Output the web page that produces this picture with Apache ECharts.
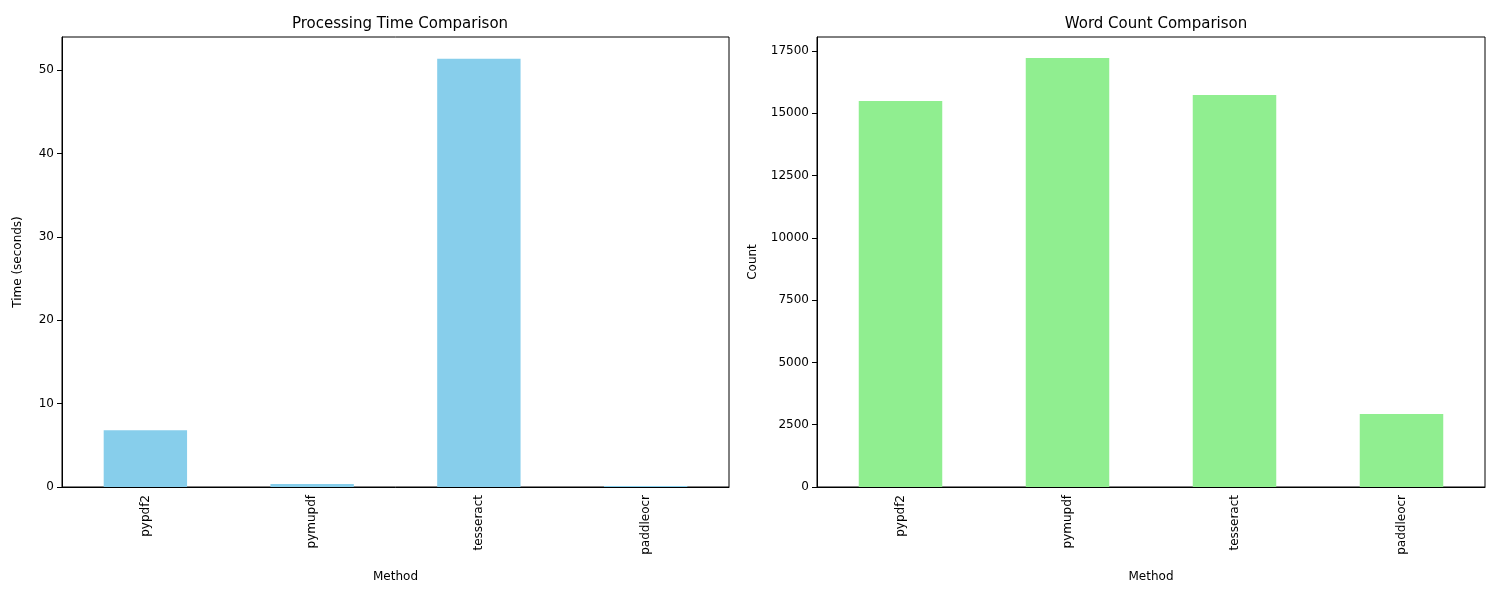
<!DOCTYPE html>
<html>
<head>
<meta charset="utf-8">
<script src="https://cdn.jsdelivr.net/npm/echarts@6/dist/echarts.min.js"></script>
<style>html,body{margin:0;padding:0;background:#fff}#main{width:1500px;height:600px}</style>
</head>
<body>
<div id="main"></div>
<script>
var methods = ['pypdf2', 'pymupdf', 'tesseract', 'paddleocr'];
var timeValues = [6.8, 0.35, 51.4, 0.12];
var wordValues = [15495, 17220, 15735, 2930];

var font = 'DejaVu Sans';
var myChart = echarts.init(document.getElementById('main'));

function xAx(idx) {
  return {
    gridIndex: idx, type: 'category', data: methods,
    name: 'Method', nameLocation: 'middle', nameGap: 84,
    nameTextStyle: {fontFamily: font, fontSize: 12, color: '#000'},
    axisLine: {lineStyle: {color: '#000'}},
    axisTick: {alignWithLabel: true, length: 5, lineStyle: {color: '#000'}},
    axisLabel: {rotate: 90, fontFamily: font, fontSize: 12, color: '#000', margin: 8},
    splitLine: {show: false}
  };
}
function yAx(idx, max, interval, name) {
  return {
    gridIndex: idx, type: 'value', min: 0, max: max, interval: interval,
    name: name, nameLocation: 'middle', nameGap: idx === 0 ? 38 : 58,
    nameTextStyle: {fontFamily: font, fontSize: 12, color: '#000'},
    axisLine: {show: true, lineStyle: {color: '#000'}},
    axisTick: {show: true, length: 5, lineStyle: {color: '#000'}},
    axisLabel: {fontFamily: font, fontSize: 12, color: '#000', showMaxLabel: false,
      formatter: function (v) { return v; }},
    splitLine: {show: false}
  };
}

var option = {
  animation: false,
  title: [
    {text: 'Processing Time Comparison', left: 395, top: 12, textAlign: 'center',
     textStyle: {fontFamily: font, fontSize: 15, fontWeight: 'normal', color: '#000'}},
    {text: 'Word Count Comparison', left: 1151, top: 12, textAlign: 'center',
     textStyle: {fontFamily: font, fontSize: 15, fontWeight: 'normal', color: '#000'}}
  ],
  grid: [
    {left: 62, width: 667, top: 37, height: 450, show: true, borderColor: '#000', borderWidth: 1},
    {left: 817, width: 668, top: 37, height: 450, show: true, borderColor: '#000', borderWidth: 1}
  ],
  xAxis: [xAx(0), xAx(1)],
  yAxis: [yAx(0, 54, 10, 'Time (seconds)'), yAx(1, 18064, 2500, 'Count')],
  series: [
    {type: 'bar', xAxisIndex: 0, yAxisIndex: 0, data: timeValues, barWidth: '50%',
     itemStyle: {color: '#87ceeb'}},
    {type: 'bar', xAxisIndex: 1, yAxisIndex: 1, data: wordValues, barWidth: '50%',
     itemStyle: {color: '#90ee90'}}
  ]
};
myChart.setOption(option);
</script>
</body>
</html>
